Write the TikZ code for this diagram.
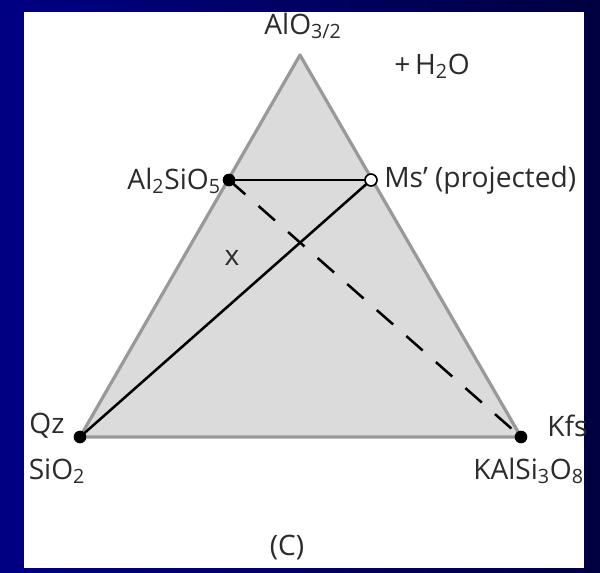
\documentclass[tikz,border=0pt]{standalone}
\usepackage{fontspec}
\setmainfont{Open Sans}
\usepackage{tikz}
\definecolor{slideblue}{HTML}{000084}
\definecolor{slidedark}{HTML}{000040}
\definecolor{phasegray}{HTML}{DBDBDB}
\definecolor{edgegray}{HTML}{999999}
\definecolor{inkgray}{HTML}{2B2B2B}

\begin{document}
\begin{tikzpicture}[x=0.025cm, y=-0.025cm, line width=1.8pt,
    lbl/.style={font=\fontsize{20}{24}\selectfont, text=inkgray, inner sep=0pt},
    phase/.style={circle, fill=black, inner sep=0pt, minimum size=9pt},
    proj/.style={circle, draw=black, fill=white, line width=1.2pt,
                 inner sep=0pt, minimum size=8.5pt}]
  % the slide: blue frame, white panel
  \useasboundingbox (0,0) rectangle (600,573);
  \shade[left color=slideblue, right color=slidedark] (0,0) rectangle (600,573);
  \fill[white] (24,12) rectangle (584,568);
  % corners and phase points
  \coordinate (apex) at (300,55);
  \coordinate (qz)   at (80,437);
  \coordinate (kfs)  at (521,437);
  \coordinate (als)  at (229,180);
  \coordinate (ms)   at (371,180);
  % the triangle
  \filldraw[fill=phasegray, draw=edgegray, line width=2.3pt, line join=round]
    (apex) -- (qz) -- (kfs) -- cycle;
  % tie lines
  \draw[dash pattern=on 15.5pt off 12.5pt] (als) -- (kfs);
  \draw (als) -- (ms);
  \draw (qz) -- (ms);
  % points
  \node[phase] (alsDot) at (als) {};
  \node[phase] (qzDot)  at (qz) {};
  \node[phase] (kfsDot) at (kfs) {};
  \node[proj]  (msDot)  at (ms) {};
  % labels
  \node[lbl] (aloLbl) at (303,26) {AlO\textsubscript{3/2}};
  \node[lbl] (waterLbl) at (432,66) {+\,H\textsubscript{2}O};
  \node[lbl, anchor=east] (alsLbl) at (222,181) {Al\textsubscript{2}SiO\textsubscript{5}};
  \node[lbl, anchor=west] (msLbl) at (383,180) {Ms’ (projected)};
  \node[lbl] (xLbl) at (232,258) {x};
  \node[lbl] (qzLbl) at (47,426) {Qz};
  \node[lbl] (sioLbl) at (57,471) {SiO\textsubscript{2}};
  \node[lbl, anchor=west] (kfsLbl) at (546,426) {Kfs};
  \node[lbl, anchor=west] (kasLbl) at (472,471) {KAlSi\textsubscript{3}O\textsubscript{8}};
  \node[lbl] (partLbl) at (287,548) {(C)};
\end{tikzpicture}
\end{document}
